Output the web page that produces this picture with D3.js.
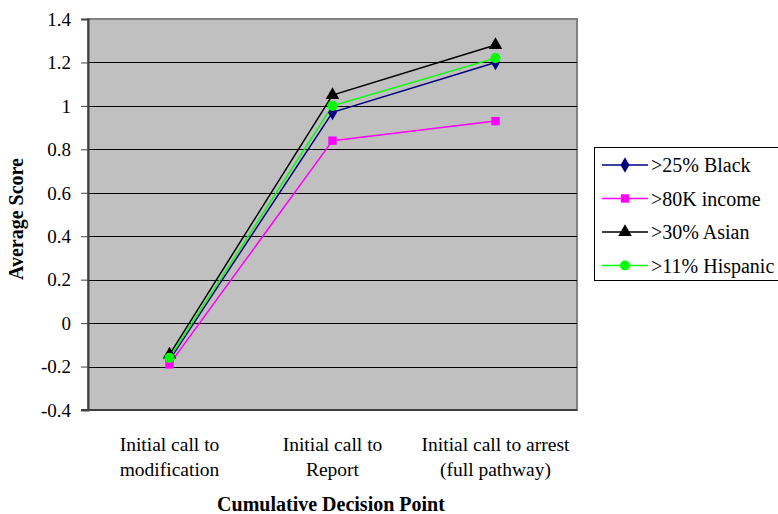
<!DOCTYPE html>
<html><head><meta charset="utf-8">
<script src="https://cdn.jsdelivr.net/npm/d3@7"></script>
<style>body{margin:0;background:#fff}svg{display:block}</style>
</head><body>
<svg id="c" width="778" height="514"></svg>
<script>
const categories = [["Initial call to","modification"],["Initial call to","Report"],["Initial call to arrest","(full pathway)"]];
const seriesNames = [">25% Black", ">80K income", ">30% Asian", ">11% Hispanic"];
const black = [-0.17, 0.97, 1.20];
const income = [-0.19, 0.84, 0.93];
const asian = [-0.145, 1.05, 1.28];
const hispanic = [-0.16, 1.00, 1.22];
const yTicks = [-0.4, -0.2, 0, 0.2, 0.4, 0.6, 0.8, 1, 1.2, 1.4];

const series = [
  {name: seriesNames[0], values: black, color: "#000080", shape: d3.symbolDiamond, size: 70},
  {name: seriesNames[1], values: income, color: "#ff00ff", shape: d3.symbolSquare, size: 70},
  {name: seriesNames[2], values: asian, color: "#000000", shape: d3.symbolTriangle, size: 80},
  {name: seriesNames[3], values: hispanic, color: "#00ff00", shape: d3.symbolCircle, size: 80}
];

const FONT = "Liberation Serif";
const svg = d3.select("#c");
const L = 88, R = 577, T = 19, B = 410;
const x = d3.scaleBand().domain(d3.range(categories.length)).range([L, R]);
const y = d3.scaleLinear().domain([-0.4, 1.4]).range([B, T]);

svg.append("rect").attr("x", L).attr("y", T).attr("width", R - L).attr("height", B - T)
  .attr("fill", "#c0c0c0").attr("stroke", "#808080").attr("stroke-width", 2);

svg.append("g").selectAll("line").data(yTicks.filter(t => t > -0.4 && t < 1.4)).join("line")
  .attr("x1", L).attr("x2", R).attr("y1", d => Math.round(y(d)) + 0.5).attr("y2", d => Math.round(y(d)) + 0.5)
  .attr("stroke", "#000").attr("stroke-width", 1);

const ya = svg.append("g").attr("transform", `translate(${L},0)`)
  .call(d3.axisLeft(y).tickValues(yTicks).tickFormat(d => String(+d.toFixed(1))).tickSize(7).tickPadding(10));
ya.attr("font-family", FONT).attr("font-size", 19);
ya.select(".domain").attr("stroke", "#404040").attr("stroke-width", 2);
ya.selectAll(".tick line").attr("stroke", "#404040");
ya.selectAll("text").attr("fill", "#000").attr("dy", "0.33em");

svg.append("line").attr("x1", L - 7).attr("x2", R).attr("y1", B).attr("y2", B).attr("stroke", "#404040").attr("stroke-width", 2);

const xl = svg.append("g").attr("font-family", FONT).attr("font-size", 19.5);
categories.forEach((c, i) => {
  c.forEach((line, j) => {
    xl.append("text").attr("x", x(i) + x.bandwidth() / 2).attr("y", 451 + j * 25)
      .attr("text-anchor", "middle").text(line);
  });
});

svg.append("text").attr("x", 331).attr("y", 511).attr("text-anchor", "middle").attr("font-family", FONT)
  .attr("font-size", 20).attr("font-weight", "bold").text("Cumulative Decision Point");
svg.append("text").attr("transform", "translate(23,219) rotate(-90)").attr("text-anchor", "middle").attr("font-family", FONT)
  .attr("font-size", 20).attr("font-weight", "bold").text("Average Score");

const line = d3.line().x((d, i) => x(i) + x.bandwidth() / 2).y(d => y(d));
series.forEach(s => {
  svg.append("path").attr("d", line(s.values)).attr("fill", "none").attr("stroke", s.color).attr("stroke-width", 1.5);
});
series.forEach(s => {
  svg.append("g").selectAll("path").data(s.values).join("path")
    .attr("transform", (d, i) => `translate(${x(i) + x.bandwidth() / 2},${y(d)})`)
    .attr("d", d3.symbol().type(s.shape).size(s.size)).attr("fill", s.color);
});

const lg = svg.append("g").attr("font-family", FONT).attr("font-size", 20);
lg.append("rect").attr("x", 594.5).attr("y", 147.5).attr("width", 200).attr("height", 133)
  .attr("fill", "#fff").attr("stroke", "#000").attr("stroke-width", 1);
series.forEach((s, i) => {
  const yy = 165 + i * 33.5;
  lg.append("line").attr("x1", 602).attr("x2", 648).attr("y1", yy).attr("y2", yy).attr("stroke", s.color).attr("stroke-width", 1.5);
  lg.append("path").attr("transform", `translate(625,${yy})`).attr("d", d3.symbol().type(s.shape).size(s.size)).attr("fill", s.color);
  lg.append("text").attr("x", 651).attr("y", yy + 7).text(s.name);
});
</script>
</body></html>
